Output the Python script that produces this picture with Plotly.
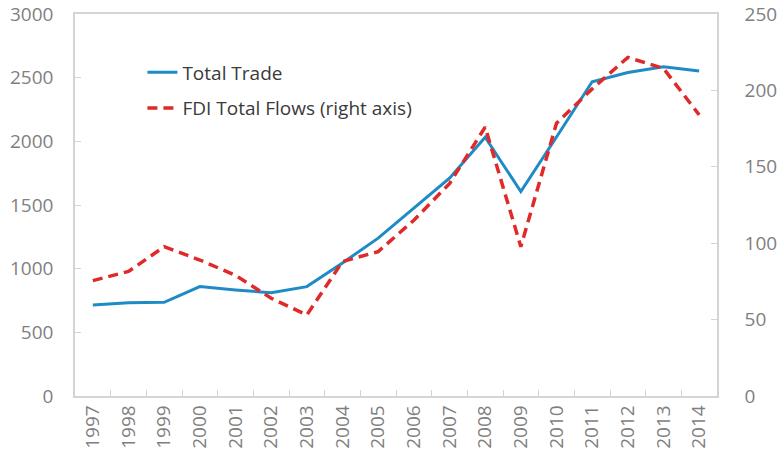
import plotly.graph_objects as go

years = [str(y) for y in range(1997, 2015)]
total_trade = [715, 733, 736, 859, 832, 811, 859, 1045, 1240, 1476, 1710, 2032, 1605, 2034, 2468, 2541, 2585, 2552]
fdi_flows = [75.5, 81.5, 97.7, 89, 79, 64, 53, 88, 94.5, 115, 139, 176, 97.7, 178.5, 201, 221.6, 214.4, 184]

frame = "#d4d4d4"
tick_font = dict(family="Open Sans", size=19, color="#7f7f7f")

fig = go.Figure()
fig.add_trace(go.Scatter(
    x=years, y=total_trade, name="Total Trade", mode="lines",
    line=dict(color="#1f8bc4", width=3), legendgroup="a",
))
fig.add_trace(go.Scatter(
    x=years, y=fdi_flows, name="FDI Total Flows (right axis)", mode="lines",
    line=dict(color="#e02a2a", width=3.5, dash="10px,6px"), yaxis="y2", legendgroup="b",
))

fig.update_layout(
    width=779, height=463,
    margin=dict(l=75, r=62, t=14, b=67),
    paper_bgcolor="white", plot_bgcolor="white",
    showlegend=True,
    legend=dict(
        x=0.105, y=0.897, xanchor="left", yanchor="top",
        bgcolor="rgba(0,0,0,0)", tracegroupgap=8,
        font=dict(family="Open Sans", size=19, color="#3a3a3a"),
    ),
    xaxis=dict(
        type="category", range=[-0.5, 17.5], tickangle=-90, tickfont=tick_font,
        showline=True, linecolor=frame, linewidth=1.5, mirror=True,
        ticks="inside", tickson="boundaries", ticklen=6, tickcolor=frame,
        showgrid=False, zeroline=False, automargin=False,
    ),
    yaxis=dict(
        range=[0, 3000], dtick=500, tickfont=tick_font,
        showline=True, linecolor=frame, linewidth=1.5, mirror=True,
        ticks="inside", ticklen=6, tickcolor=frame,
        showgrid=False, zeroline=False, ticklabelstandoff=16, automargin=False,
    ),
    yaxis2=dict(
        range=[0, 250], dtick=50, tickfont=tick_font,
        overlaying="y", side="right",
        showline=True, linecolor=frame, linewidth=1.5,
        ticks="inside", ticklen=6, tickcolor=frame,
        showgrid=False, zeroline=False, ticklabelstandoff=22, automargin=False,
    ),
)

fig.write_html("out.html")
